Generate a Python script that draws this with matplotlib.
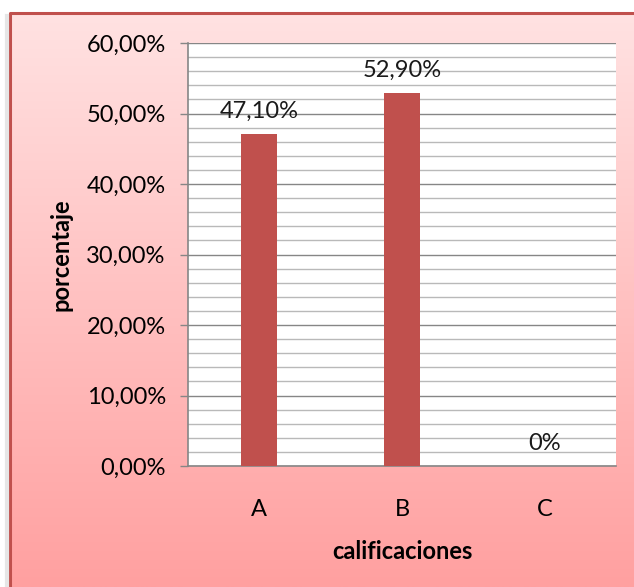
import numpy as np
import matplotlib.pyplot as plt
from matplotlib.ticker import MultipleLocator, FuncFormatter
from matplotlib.lines import Line2D

# data
categorias = ['A', 'B', 'C']
porcentajes = [47.10, 52.90, 0.0]
etiquetas = ['47,10%', '52,90%', '0%']

plt.rcParams['font.family'] = ['Lato', 'DejaVu Sans']
plt.rcParams['font.size'] = 17

fig = plt.figure(figsize=(6.34, 5.87), dpi=100)
fig.patch.set_facecolor('white')

# background panel with gradient (runs off the right and bottom edge)
bg = fig.add_axes([10/634, 0, 624/634, 574/587], zorder=0)
grad = np.linspace(0, 1, 256).reshape(-1, 1)
top = np.array([255, 226, 226]) / 255
bot = np.array([255, 160, 160]) / 255
img = top + (bot - top) * grad[:, :, None]
bg.imshow(img, aspect='auto', extent=[0, 1, 0, 1], origin='upper')
bg.set_xlim(0, 1)
bg.set_ylim(0, 1)
bg.axis('off')
# border only on the left and top sides
bg.add_line(Line2D([0, 0, 1], [0, 1, 1], transform=bg.transAxes, color='#c0504d',
                   linewidth=2.2, clip_on=False))
# soft shadow to the left
fig.add_artist(Line2D([7/634, 7/634], [0, 571/587], color='#e6e6e6', linewidth=3))

ax = fig.add_axes([188/634, 1-466/587, 428/634, 423/587], zorder=1)
ax.set_facecolor('white')

x = np.arange(len(categorias))
ax.bar(x, porcentajes, width=0.25, color='#c0504d', zorder=3)

ax.set_xlim(-0.5, 2.5)
ax.set_ylim(0, 60)
ax.yaxis.set_major_locator(MultipleLocator(10))
ax.yaxis.set_minor_locator(MultipleLocator(2))
ax.yaxis.set_major_formatter(FuncFormatter(lambda v, p: ('%.2f%%' % v).replace('.', ',')))
ax.grid(axis='y', which='minor', color='#b9b9b9', linewidth=1.0, zorder=1)
ax.grid(axis='y', which='major', color='#868686', linewidth=1.0, zorder=2)
ax.set_axisbelow(True)

ax.set_xticks(x)
ax.set_xticklabels(categorias)
ax.tick_params(axis='x', length=0, pad=24)
ax.tick_params(axis='y', which='major', length=6, color='#868686', width=1.0, pad=10)
ax.tick_params(axis='y', which='minor', length=0)

for s in ['top', 'right']:
    ax.spines[s].set_visible(False)
for s in ['left', 'bottom']:
    ax.spines[s].set_color('#868686')
    ax.spines[s].set_linewidth(1.2)

for xi, v, t in zip(x, porcentajes, etiquetas):
    ax.annotate(t, xy=(xi, v), xytext=(0, 9), textcoords='offset points',
                ha='center', va='bottom', fontsize=17, color='#1a1a1a')

ax.set_xlabel('calificaciones', fontweight='bold', fontsize=17, labelpad=14)
ax.set_ylabel('porcentaje', fontweight='bold', fontsize=17, labelpad=10)

fig.savefig('out.png', dpi=100, facecolor='white')
